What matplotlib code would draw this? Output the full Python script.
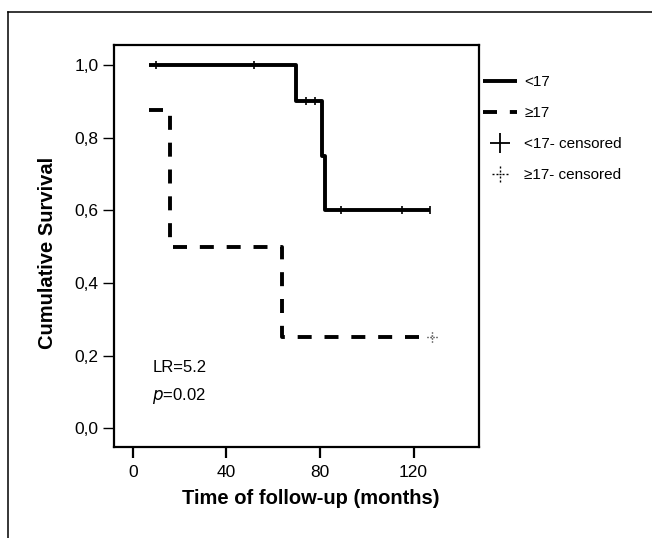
import numpy as np
import matplotlib
matplotlib.use("Agg")
import matplotlib.pyplot as plt
from matplotlib.lines import Line2D
from matplotlib.path import Path

plt.rcParams['font.family'] = ['Liberation Sans', 'DejaVu Sans']

# Kaplan-Meier steps, group <17
lt17_time = [7, 70, 81, 82, 127]
lt17_surv = [1.0, 0.9, 0.75, 0.6, 0.6]
lt17_cens_time = [10, 52, 74, 78, 89, 115, 127]
lt17_cens_surv = [1.0, 1.0, 0.9, 0.9, 0.6, 0.6, 0.6]

# group >=17
ge17_time = [7, 16, 64, 128]
ge17_surv = [0.875, 0.5, 0.25, 0.25]
ge17_cens_time = [128]
ge17_cens_surv = [0.25]

x_ticks = [0, 40, 80, 120]
y_ticks = [0.0, 0.2, 0.4, 0.6, 0.8, 1.0]
y_ticklabels = ['0,0', '0,2', '0,4', '0,6', '0,8', '1,0']

# dotted plus marker
segs = []
codes = []
for a, b in [(-1, -0.75), (-0.5, -0.25), (0.25, 0.5), (0.75, 1)]:
    segs += [(a, 0), (b, 0), (0, a), (0, b)]
    codes += [Path.MOVETO, Path.LINETO, Path.MOVETO, Path.LINETO]
segs += [(-0.1, 0), (0.1, 0)]
codes += [Path.MOVETO, Path.LINETO]
dot_plus = Path(segs, codes)

LW = 2.8
DASH = (3.6, 3.3)

fig = plt.figure(figsize=(6.52, 5.38), dpi=100)
ax = fig.add_axes([0.1748, 0.1691, 0.5599, 0.7473])

ax.plot(lt17_time, lt17_surv, drawstyle='steps-post', color='black', lw=LW,
        solid_capstyle='butt')
ax.plot(ge17_time, ge17_surv, drawstyle='steps-post', color='black', lw=LW,
        dashes=DASH, dash_capstyle='butt')
ax.plot(lt17_cens_time, lt17_cens_surv, ls='none', marker='|', ms=6,
        mew=1.2, color='black')
ax.plot(ge17_cens_time, ge17_cens_surv, ls='none', marker=dot_plus, ms=7,
        mew=1.0, mfc='none', color='black')

ax.set_xlim(-8, 148)
ax.set_ylim(-0.052, 1.055)
ax.set_xticks(x_ticks)
ax.set_yticks(y_ticks)
ax.set_yticklabels(y_ticklabels)
for s in ax.spines.values():
    s.set_linewidth(1.6)
ax.tick_params(axis='x', length=8, width=1.6, pad=5, labelsize=12.5)
ax.tick_params(axis='y', length=8, width=1.0, pad=3, labelsize=12.5)

ax.set_xlabel('Time of follow-up (months)', fontsize=14.5, fontweight='bold')
ax.xaxis.set_label_coords(0.54, -0.105)
ax.set_ylabel('Cumulative Survival', fontsize=14.5, fontweight='bold')
ax.yaxis.set_label_coords(-0.155, 0.483)

ax.text(0.105, 0.197, 'LR=5.2', transform=ax.transAxes, fontsize=12, va='center')
ax.text(0.105, 0.128, '$p$=0.02', transform=ax.transAxes, fontsize=12,
        va='center')

handles = [
    Line2D([], [], color='black', lw=LW, solid_capstyle='butt'),
    Line2D([], [], color='black', lw=LW, dashes=DASH, dash_capstyle='butt'),
    Line2D([], [], color='black', ls='none', marker='+', ms=14, mew=1.3),
    Line2D([], [], color='black', ls='none', marker=dot_plus, ms=11,
           mew=1.0, mfc='none'),
]
labels = ['<17', '≥17', '<17- censored', '≥17- censored']
fig.legend(handles, labels, loc='upper left', bbox_to_anchor=(483 / 652, 1 - 75 / 538),
           frameon=False, fontsize=11, handlelength=2.2, handletextpad=0.5,
           labelspacing=1.12, borderpad=0, borderaxespad=0)

# outer frame
fig.add_artist(Line2D([8 / 652, 1], [1 - 12 / 538, 1 - 12 / 538],
                      transform=fig.transFigure, color='black', lw=1.1))
fig.add_artist(Line2D([8 / 652, 8 / 652], [0, 1 - 12 / 538],
                      transform=fig.transFigure, color='black', lw=1.1))

fig.savefig('out.png', dpi=100)
